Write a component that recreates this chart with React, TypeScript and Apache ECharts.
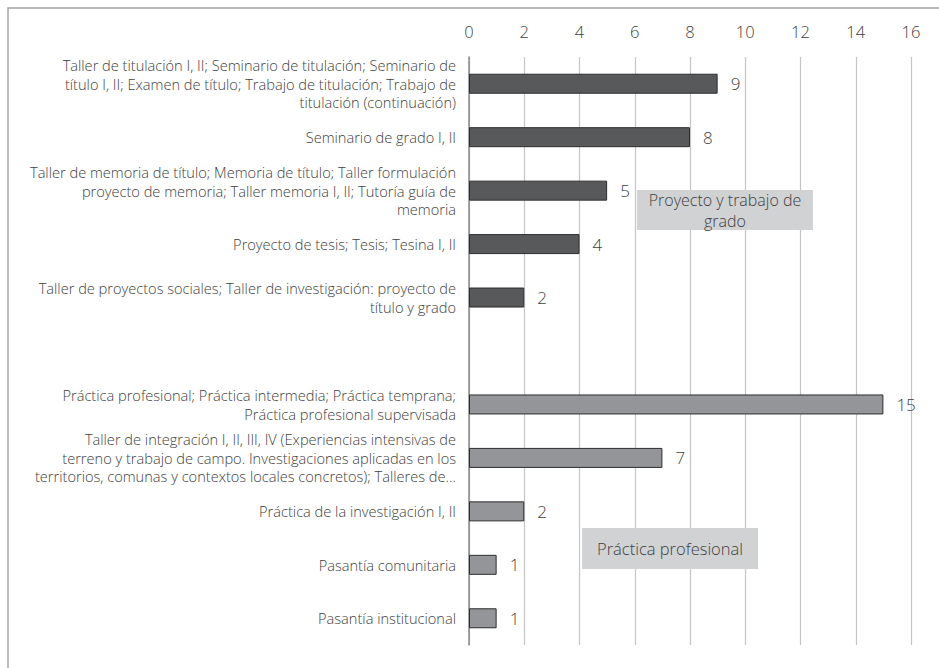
import React, { useEffect, useRef } from "react";
import * as echarts from "echarts";

const categories: string[] = [
  "Taller de titulación I, II; Seminario de titulación; Seminario de\ntítulo I, II; Examen de título; Trabajo de titulación; Trabajo de\ntitulación (continuación)",
  "Seminario de grado I, II",
  "Taller de memoria de título; Memoria de título; Taller formulación\nproyecto de memoria; Taller memoria I, II; Tutoría guía de\nmemoria",
  "Proyecto de tesis; Tesis; Tesina I, II",
  "Taller de proyectos sociales; Taller de investigación: proyecto de\ntítulo y grado",
  "",
  "Práctica profesional; Práctica intermedia; Práctica temprana;\nPráctica profesional supervisada",
  "Taller de integración I, II, III, IV (Experiencias intensivas de\nterreno y trabajo de campo. Investigaciones aplicadas en los\nterritorios, comunas y contextos locales concretos); Talleres de...",
  "Práctica de la investigación I, II",
  "Pasantía comunitaria",
  "Pasantía institucional",
];

const values: (number | null)[] = [9, 8, 5, 4, 2, null, 15, 7, 2, 1, 1];
const groups: string[] = ["proyecto", "proyecto", "proyecto", "proyecto", "proyecto", "", "practica", "practica", "practica", "practica", "practica"];
const groupLabels: string[] = ["Proyecto y trabajo de\ngrado", "Práctica profesional"];
const xTicks = { min: 0, max: 16, interval: 2 };

const FONT = "'Open Sans', Lato, sans-serif";
const TEXT = "#404040";

export default function App() {
  const ref = useRef<HTMLDivElement>(null);
  useEffect(() => {
    if (!ref.current) return;
    const chart = echarts.init(ref.current, undefined, { renderer: "svg" });
    const data = values.map((v, i) => ({
      value: v,
      itemStyle: {
        color: groups[i] === "proyecto" ? "#58595b" : "#939598",
        borderColor: "#2e2e2e",
        borderWidth: 1,
      },
    }));
    chart.setOption({
      animation: false,
      backgroundColor: "#ffffff",
      grid: { left: 469, right: 28, top: 57, bottom: 23, containLabel: false },
      xAxis: {
        type: "value",
        position: "top",
        min: xTicks.min,
        max: xTicks.max,
        interval: xTicks.interval,
        axisLine: { show: false },
        axisTick: { show: false },
        axisLabel: { fontFamily: FONT, fontSize: 16.5, color: TEXT, fontWeight: 300, margin: 17 },
        splitLine: { show: true, lineStyle: { color: "#c4c4c4", width: 1.2 } },
      },
      yAxis: {
        type: "category",
        data: categories,
        inverse: true,
        axisLine: { show: true, lineStyle: { color: "#8a8a8a", width: 1.5 } },
        axisTick: { show: false },
        axisLabel: {
          fontFamily: FONT,
          fontSize: 14.6,
          lineHeight: 18.5,
          color: TEXT,
          fontWeight: 300,
          margin: 13,
          align: "right",
        },
      },
      series: [
        {
          type: "bar",
          data,
          barWidth: 20,
          label: {
            show: true,
            position: "right",
            distance: 13,
            fontFamily: FONT,
            fontSize: 17,
            fontWeight: 300,
            color: TEXT,
          },
        },
      ],
      graphic: [
        {
          type: "rect",
          shape: { x: 8, y: 8, width: 1200, height: 1200 },
          style: { fill: "none", stroke: "#a6a6a6", lineWidth: 1.5 },
          z: 100,
        },
        {
          type: "group",
          left: 637,
          top: 189,
          z: 50,
          children: [
            { type: "rect", z: 50, shape: { x: 0, y: 0, width: 176, height: 40 }, style: { fill: "#d1d2d4" } },
            {
              type: "text",
              z: 51,
              x: 88,
              y: 20,
              style: {
                text: groupLabels[0],
                fontFamily: FONT,
                fontSize: 16,
                fontWeight: 300,
                lineHeight: 21,
                fill: TEXT,
                align: "center",
                verticalAlign: "middle",
              },
            },
          ],
        },
        {
          type: "group",
          left: 582,
          top: 528,
          z: 50,
          children: [
            { type: "rect", z: 50, shape: { x: 0, y: 0, width: 176, height: 41 }, style: { fill: "#d1d2d4" } },
            {
              type: "text",
              z: 51,
              x: 88,
              y: 20,
              style: {
                text: groupLabels[1],
                fontFamily: FONT,
                fontSize: 16.5,
                fontWeight: 300,
                fill: TEXT,
                align: "center",
                verticalAlign: "middle",
              },
            },
          ],
        },
      ],
    });
    return () => chart.dispose();
  }, []);
  return (
    <div
      ref={ref}
      style={{ position: "fixed", left: 0, top: 0, width: 939, height: 668, background: "#fff" }}
    />
  );
}
